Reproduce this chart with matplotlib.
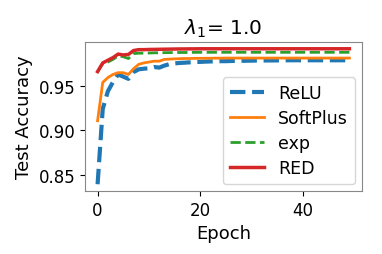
import numpy as np
from matplotlib import pyplot as plt

epochs = np.arange(50)

relu = [0.839, 0.924, 0.944, 0.9545, 0.963, 0.9605, 0.958, 0.9657, 0.9688, 0.9695,
        0.970, 0.9714, 0.9707, 0.973, 0.9747, 0.9755, 0.976, 0.9763, 0.9767, 0.977,
        0.9772, 0.9775, 0.9777, 0.9778, 0.978, 0.978, 0.9782, 0.9783, 0.9784, 0.9785,
        0.9786, 0.9787, 0.9787, 0.9788, 0.9788, 0.9789, 0.9789, 0.979, 0.979, 0.979,
        0.979, 0.979, 0.979, 0.979, 0.979, 0.979, 0.979, 0.979, 0.979, 0.979]
softplus = [0.9107, 0.954, 0.9594, 0.963, 0.965, 0.965, 0.963, 0.9695, 0.9744, 0.976,
            0.977, 0.978, 0.978, 0.980, 0.9803, 0.9806, 0.9808, 0.981, 0.981, 0.9812,
            0.9812, 0.9813, 0.9813, 0.9814, 0.9814, 0.9815, 0.9815, 0.9815, 0.9815, 0.9815,
            0.9815, 0.9815, 0.9815, 0.9815, 0.9815, 0.9815, 0.9815, 0.9815, 0.9815, 0.9815,
            0.9815, 0.9815, 0.9815, 0.9815, 0.9815, 0.9815, 0.9815, 0.9815, 0.9815, 0.9815]
exp = [0.966, 0.975, 0.977, 0.980, 0.984, 0.983, 0.981, 0.9865, 0.987, 0.987,
       0.9872, 0.9874, 0.9875, 0.9876, 0.9877, 0.9877, 0.9878, 0.9878, 0.9879, 0.9879,
       0.988, 0.988, 0.988, 0.988, 0.988, 0.988, 0.988, 0.988, 0.988, 0.988,
       0.988, 0.988, 0.988, 0.988, 0.988, 0.988, 0.988, 0.988, 0.988, 0.988,
       0.988, 0.988, 0.988, 0.988, 0.988, 0.988, 0.988, 0.988, 0.988, 0.988]
red = [0.9662, 0.976, 0.979, 0.982, 0.986, 0.985, 0.9856, 0.990, 0.991, 0.991,
       0.9912, 0.9913, 0.9914, 0.9915, 0.9916, 0.9917, 0.9918, 0.9918, 0.9919, 0.9919,
       0.992, 0.992, 0.992, 0.992, 0.992, 0.992, 0.992, 0.992, 0.992, 0.992,
       0.992, 0.992, 0.992, 0.992, 0.992, 0.992, 0.992, 0.992, 0.992, 0.992,
       0.992, 0.992, 0.992, 0.992, 0.992, 0.992, 0.992, 0.992, 0.992, 0.992]

fig = plt.figure(figsize=(3.82, 2.55), dpi=100)
ax = fig.add_subplot(111)
fig.subplots_adjust(left=0.2225, right=0.9476, top=0.8314, bottom=0.247)

ax.plot(epochs, relu, '--', color='tab:blue', lw=3, label='ReLU')
ax.plot(epochs, softplus, '-', color='tab:orange', lw=2, label='SoftPlus')
ax.plot(epochs, exp, '--', color='tab:green', lw=2, label='exp')
ax.plot(epochs, red, '-', color='tab:red', lw=2.5, label='RED')

ax.set_xticks([0, 20, 40])
ax.set_yticks([0.85, 0.90, 0.95])
ax.tick_params(labelsize=12)
for s in ax.spines.values():
    s.set_color('#888888')
ax.set_xlabel('Epoch', fontsize=13)
ax.set_ylabel('Test Accuracy', fontsize=13)
ax.set_title(r'$\lambda_1$= 1.0', fontsize=14.5)
ax.legend(fontsize=12.5, loc='lower right', borderaxespad=0.4, labelspacing=0.4)

plt.savefig('out.png')
